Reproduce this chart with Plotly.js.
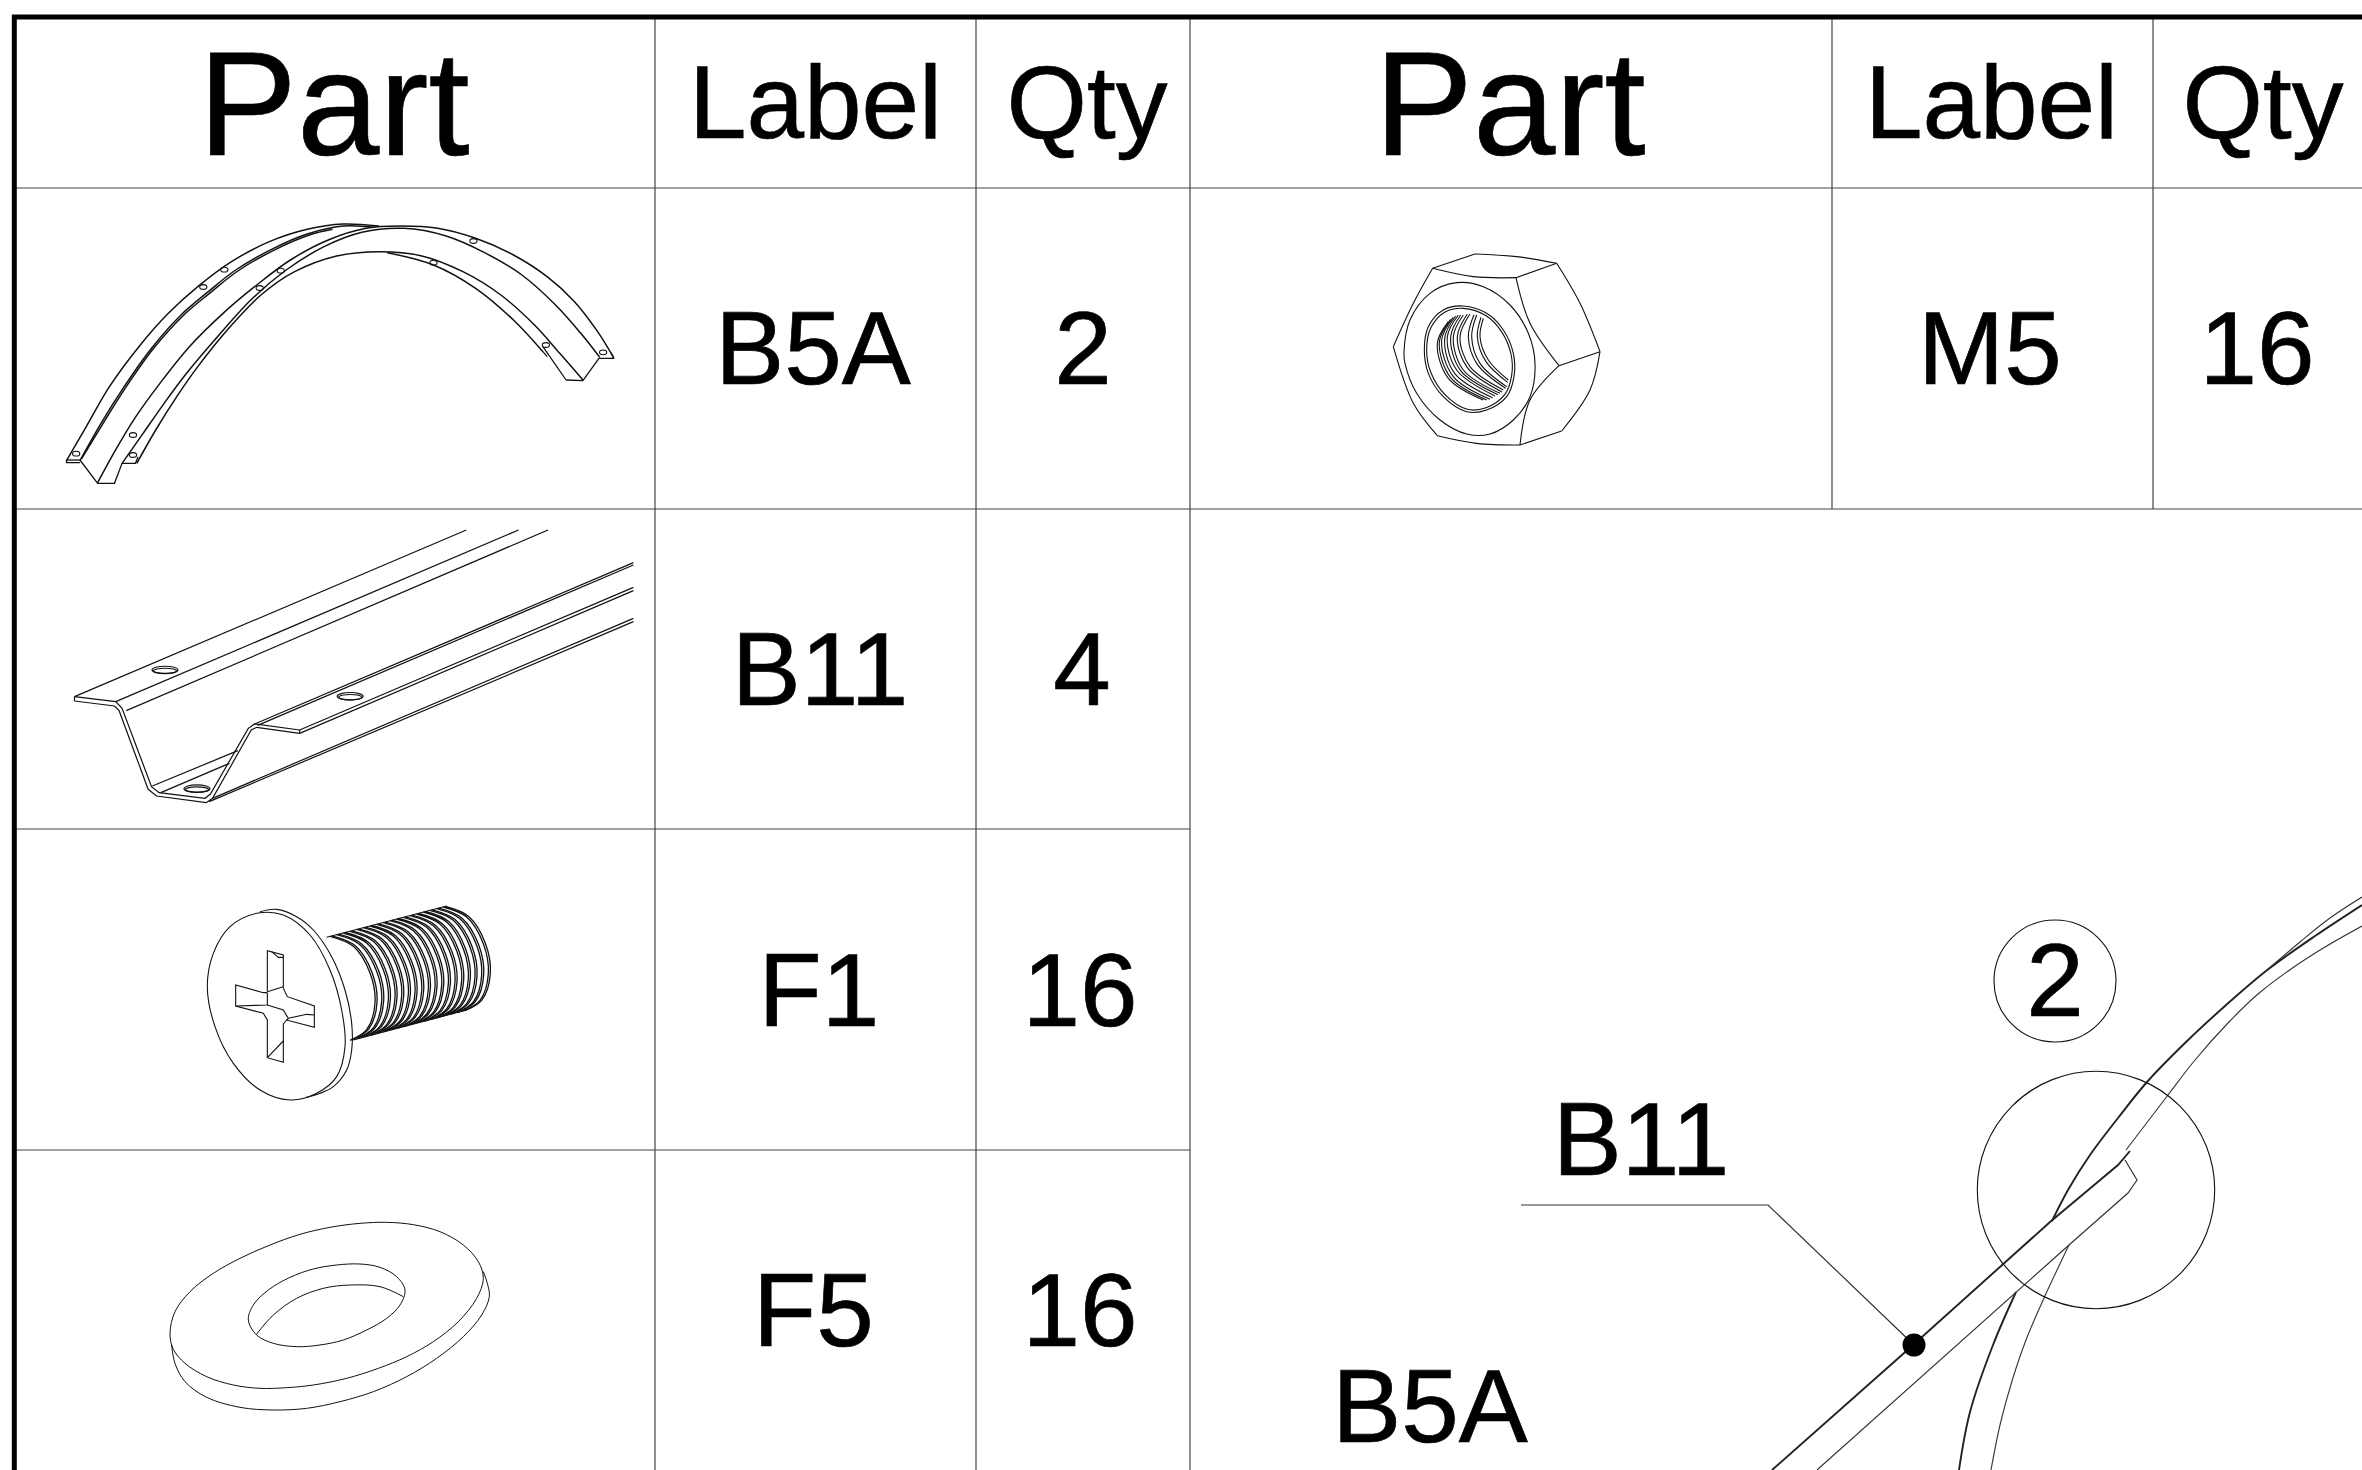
<!DOCTYPE html>
<html><head><meta charset="utf-8">
<script src="https://cdn.plot.ly/plotly-3.0.1.min.js"></script>
<style>html,body{margin:0;padding:0;background:#fff}#c{width:2362px;height:1470px}
.textpoint text{stroke:#000;stroke-width:0.7px}</style>
</head><body><div id="c"></div>
<script>
// ---- table content ----
const headerTexts = ["Part","Label","Qty","Part","Label","Qty"];
const headerX = [334,815.5,1087,1510,1991.5,2263];
const headerY = [118,112,112,118,112,112];
const headerSizes = [148,103.5,103.5,148,103.5,103.5];
const cellTexts = ["B5A","2","M5","16","B11","4","F1","16","F5","16","2","B11","B5A"];
const cellX = [813,1083,1990,2257,820,1082,819,1080,813.5,1080,2055,1641,1430];
const cellY = [358.5,358.5,358.5,358.5,679.5,679.5,1000,1000,1320.5,1320.5,990,1149,1416];
// ---- grid ----
const borderX = [14.3,14.3,2362], borderY = [1470,17,17];
const gridV = [[655,17,1470],[976,17,1470],[1190,17,1470],[1832,17,509],[2153,17,509]];
const gridH = [[14,2362,188],[14,2362,509],[14,1190,829],[14,1190,1150]];
// ---- part B5A (arch) ----
const archCrop = [0,170,2.376,3];
const archCurves = [
 [[158,872],[205,770],[260,650],[330,530],[400,430],[470,350],[550,275],[640,215],[730,178],[815,162],[900,168]],
 [[190,872],[240,760],[295,650],[360,535],[430,435],[495,365],[560,300],[650,235],[730,192],[815,168],[890,172]],
 [[194,866],[245,760],[300,650],[365,535],[435,437],[500,368],[565,303],[655,238],[735,195],[790,178]],
 [[232,938],[270,850],[320,745],[380,640],[450,530],[530,430],[610,345],[690,270],[780,210],[870,175],[950,168],[1040,175],[1130,205],[1220,255],[1300,320],[1365,395],[1420,485],[1458,563]],
 [[290,880],[340,790],[390,700],[440,615],[510,510],[600,385],[680,300],[770,230],[860,187],[960,175],[1060,198],[1150,247],[1240,315],[1320,405],[1380,490],[1425,562]],
 [[325,880],[370,780],[420,680],[470,590],[540,480],[620,375],[700,305],[800,258],[900,245],[1000,257],[1100,305],[1190,375],[1270,465],[1330,550],[1385,630]],
 [[920,248],[1030,285],[1130,355],[1220,450],[1290,545]]
];
const archLines = [
 [[158,870],[158,878],[190,878]],
 [[190,870],[232,940],[272,940],[290,880],[322,880],[328,860]],
 [[158,870],[190,870]],
 [[1345,630],[1385,632],[1423,565],[1458,565],[1452,548]],
 [[1345,630],[1290,530]],[[1290,545],[1300,560]]
];
const archHoles = [[181,851],[316,795],[316,855],[483,351],[533,299],[617,354],[667,302],[1297,525],[1433,547],[1030,278],[1125,213]];
// ---- part B11 (rail) ----
const railCrop = [0,500,2.376,3];
const railLines = [
 [[177,590],[1108,90]],[[275,605],[1232,90]],[[300,632],[1302,90]],
 [[177,590],[177,603]],[[712,690],[712,700]],
 [[605,672],[1505,188]],[[612,676],[1505,195]],
 [[712,690],[1505,262]],[[712,700],[1505,272]],
 [[505,895],[1505,355]],[[497,905],[1505,365]],
 [[362,858],[565,752]],[[382,878],[545,790]]
];
const railProfiles = [
 [[177,590],[275,605],[290,625],[360,860],[378,878],[487,895],[500,882],[590,685],[605,672],[712,690]],
 [[177,603],[272,618],[283,632],[352,868],[372,888],[490,908],[505,895],[597,690],[610,682],[712,700]]
];
const railHoles = [[392,510],[832,589],[468,866]];
// ---- part F1 (screw) ----
const screwCrop = [150,880,3,3];
const screwCurves = [
 [[172,320],[190,220],[240,140],[320,100],[400,105],[480,165],[540,270],[575,390],[585,500],[560,590],[500,640],[420,660],[330,630],[250,550],[195,440],[172,320]],
 [[330,95],[380,88],[440,110],[490,150],[545,230],[585,330],[605,430],[605,510],[590,570],[550,620],[510,640],[470,652]]
];
const screwLines = [
 [[352,335],[352,212],[400,225],[400,325]],
 [[352,338],[340,338],[257,315],[257,378],[340,400],[352,420],[352,533],[400,547],[400,432],[410,420],[493,442],[493,378],[412,350],[400,325]],
 [[352,335],[400,320]],[[352,338],[352,375],[257,378]],
 [[352,375],[400,390],[415,415],[410,420]],[[415,415],[470,403],[493,405]],
 [[352,533],[400,483]],[[365,215],[385,232],[400,232]],
 [[530,172],[890,78]],[[610,480],[950,390]]
];
const threadTopX = [540,560,580,600,620,640,660,680,700,720,740,760,780,800,820,840,860,880];
const threadTopY = [169,164,159,154,148,143,138,133,128,122,117,112,107,102,96,91,86,81];
const threadDX = [0,70,120,135,110,60];
const threadDY = [0,30,110,200,280,312];
// ---- part F5 (washer) ----
const washerCrop = [130,1190,3,3];
const washerCurves = [
 [[120,430],[135,365],[180,305],[250,250],[330,205],[420,165],[510,133],[600,112],[690,100],[770,97],[850,104],[930,125],[1000,165],[1045,215],[1060,265],[1040,325],[985,395],[910,455],[830,500],[745,535],[650,565],[550,585],[470,593],[390,595],[310,585],[230,560],[165,520],[130,478],[120,430]],
 [[125,465],[135,520],[165,575],[230,622],[330,652],[430,660],[530,655],[630,635],[730,605],[830,560],[920,505],[1000,440],[1055,375],[1078,320],[1072,280],[1060,245]],
 [[355,390],[370,345],[415,300],[480,262],[550,237],[620,225],[690,222],[750,232],[800,260],[825,300],[810,345],[770,385],[710,420],[640,450],[570,465],[500,470],[430,460],[380,435],[355,390]],
 [[378,435],[430,375],[500,325],[580,295],[660,285],[750,290],[820,320]]
];
// ---- part M5 (nut) ----
const nutCrop = [1360,230,3,3];
const nutCurves = [
 [[100,350],[160,220],[218,115]],[[345,72],[470,80],[590,100]],[[590,100],[660,220],[720,365]],
 [[720,365],[690,480],[605,603]],[[480,645],[350,640],[232,617]],[[232,617],[160,520],[100,350]],
 [[218,115],[340,140],[468,143]],[[468,143],[510,280],[597,407]],[[597,407],[510,510],[480,645]],
 [[132,365],[150,270],[210,190],[290,158],[370,170],[450,225],[505,310],[525,400],[510,500],[460,570],[390,612],[320,612],[240,570],[170,490],[135,400],[132,365]],
 [[193,360],[205,290],[250,240],[310,228],[380,250],[430,300],[460,370],[462,440],[440,500],[380,540],[320,545],[250,500],[205,430],[193,360]],
 [[200,362],[212,295],[254,247],[310,235],[376,256],[424,304],[453,372],[455,436],[434,494],[378,533],[322,538],[255,494],[212,426],[200,362]],
 [[370,265],[360,320],[385,390],[445,450]],[[363,262],[352,320],[378,395],[443,457]],
 [[350,255],[335,320],[360,400],[440,470]],[[342,254],[325,320],[352,403],[437,475]],
 [[330,252],[300,320],[330,410],[430,480]],[[322,252],[292,320],[322,413],[426,486]],
 [[310,255],[280,320],[310,420],[420,490]],[[302,255],[272,320],[302,422],[414,494]],
 [[295,255],[262,320],[290,420],[405,498]],[[287,258],[254,325],[284,430],[398,503]],
 [[280,262],[245,330],[280,440],[390,508]],[[272,268],[238,335],[272,443],[380,510]],
 [[265,275],[232,340],[265,445],[370,510]]
];
const nutLines = [[[218,115],[345,72]],[[468,143],[590,100]],[[597,407],[720,365]],[[605,603],[480,645]]];
// ---- assembly detail ----
const detailHeavyCurves = [
 [[2052,1221],[2068,1190],[2090,1155],[2118,1118],[2147,1082],[2185,1043],[2225,1006],[2266,971],[2315,936],[2362,905]],
 [[2016,1292],[1993,1345],[1970,1412],[1959,1470]]
];
const detailThinCurves = [
 [[2126,1150],[2168,1095],[2195,1060],[2228,1023],[2258,994],[2291,969],[2325,947],[2362,926]],
 [[2266,971],[2300,942],[2330,918],[2362,897]],
 [[2069,1245],[2044,1298],[2026,1340],[2012,1381],[2000,1425],[1991,1470]]
];
const detailHeavyLines = [[[1772,1470],[1903,1354],[2050,1222],[2118,1165],[2130,1151]]];
const detailThinLines = [
 [[1817,1470],[2016,1292],[2069,1245],[2128,1193],[2137,1180],[2125,1160]],
 [[1521,1205],[1768,1205],[1914,1345]]
];
const dotX = [1914], dotY = [1345];
const circles = [[2055,981,61,61],[2096,1190,118.7,118.7]];

function place(seg, crop){
  return seg.map(p=>[crop[0]+p[0]/crop[2], crop[1]+p[1]/crop[3]]);
}
const traces = [];
function addSegs(segs, crop, shape, width, color){
  const x=[],y=[];
  segs.forEach(s=>{ place(s,crop).forEach(p=>{x.push(p[0]);y.push(p[1]);}); x.push(null);y.push(null); });
  traces.push({type:'scatter',mode:'lines',x,y,hoverinfo:'skip',showlegend:false,connectgaps:false,
    line:{shape:shape,smoothing:1,width:width,color:color}});
}
const unit=[0,0,1,1], ink='#111';
// grid
gridV.forEach(v=>traces.push({type:'scatter',mode:'lines',x:[v[0],v[0]],y:[v[1],v[2]],hoverinfo:'skip',showlegend:false,line:{width:1.2,color:'#444'}}));
gridH.forEach(h=>traces.push({type:'scatter',mode:'lines',x:[h[0],h[1]],y:[h[2],h[2]],hoverinfo:'skip',showlegend:false,line:{width:1.2,color:'#444'}}));
traces.push({type:'scatter',mode:'lines',x:borderX,y:borderY,hoverinfo:'skip',showlegend:false,line:{width:5,color:'#000'}});
// parts
addSegs(archCurves,archCrop,'spline',1.5,ink); addSegs(archLines,archCrop,'linear',1.3,ink);
addSegs(railLines,railCrop,'linear',1.2,ink); addSegs(railProfiles,railCrop,'linear',1.2,ink);
addSegs(screwCurves,screwCrop,'spline',1.1,ink); addSegs(screwLines,screwCrop,'linear',1.1,ink);
const threads=[];
threadTopX.forEach((tx,i)=>{
  [0,6].forEach(o=>threads.push(threadDX.map((d,k)=>[tx+d+o,threadTopY[i]+threadDY[k]-o*0.25])));
});
addSegs(threads,screwCrop,'spline',1.3,ink);
addSegs(washerCurves,washerCrop,'spline',1.0,ink);
addSegs(nutCurves,nutCrop,'spline',1.1,ink); addSegs(nutLines,nutCrop,'linear',1.1,ink);
addSegs(detailHeavyCurves,unit,'spline',1.9,'#222'); addSegs(detailThinCurves,unit,'spline',1.1,'#333');
addSegs(detailHeavyLines,unit,'linear',1.9,'#222'); addSegs(detailThinLines,unit,'linear',1.2,'#333');
traces.push({type:'scatter',mode:'markers',x:dotX,y:dotY,hoverinfo:'skip',showlegend:false,marker:{size:23,color:'#000'}});
// text
traces.push({type:'scatter',mode:'text',x:headerX,y:headerY,text:headerTexts,textposition:'middle center',hoverinfo:'skip',showlegend:false,
  textfont:{family:'Liberation Sans',size:headerSizes,color:'#000'}});
traces.push({type:'scatter',mode:'text',x:cellX,y:cellY,text:cellTexts,textposition:'middle center',hoverinfo:'skip',showlegend:false,
  textfont:{family:'Liberation Sans',size:103.5,color:'#000'}});
// ellipses
const shapes=[];
function ell(cx,cy,rx,ry){shapes.push({type:'circle',xref:'x',yref:'y',x0:cx-rx,x1:cx+rx,y0:cy-ry,y1:cy+ry,line:{width:1.1,color:ink},fillcolor:'rgba(0,0,0,0)'});}
circles.forEach(c=>ell(c[0],c[1],c[2],c[3]));
place(archHoles,archCrop).forEach(p=>ell(p[0],p[1],3.6,2.4));
place(railHoles,railCrop).forEach(p=>{ell(p[0],p[1],13,3.8);ell(p[0],p[1]+0.8,11.5,2.6);});
const layout={width:2362,height:1470,margin:{l:0,r:0,t:0,b:0,pad:0},paper_bgcolor:'#fff',plot_bgcolor:'#fff',showlegend:false,
  xaxis:{range:[0,2362],visible:false,fixedrange:true},yaxis:{range:[1470,0],visible:false,fixedrange:true},shapes};
Plotly.newPlot('c',traces,layout,{staticPlot:true,displayModeBar:false});
</script></body></html>
